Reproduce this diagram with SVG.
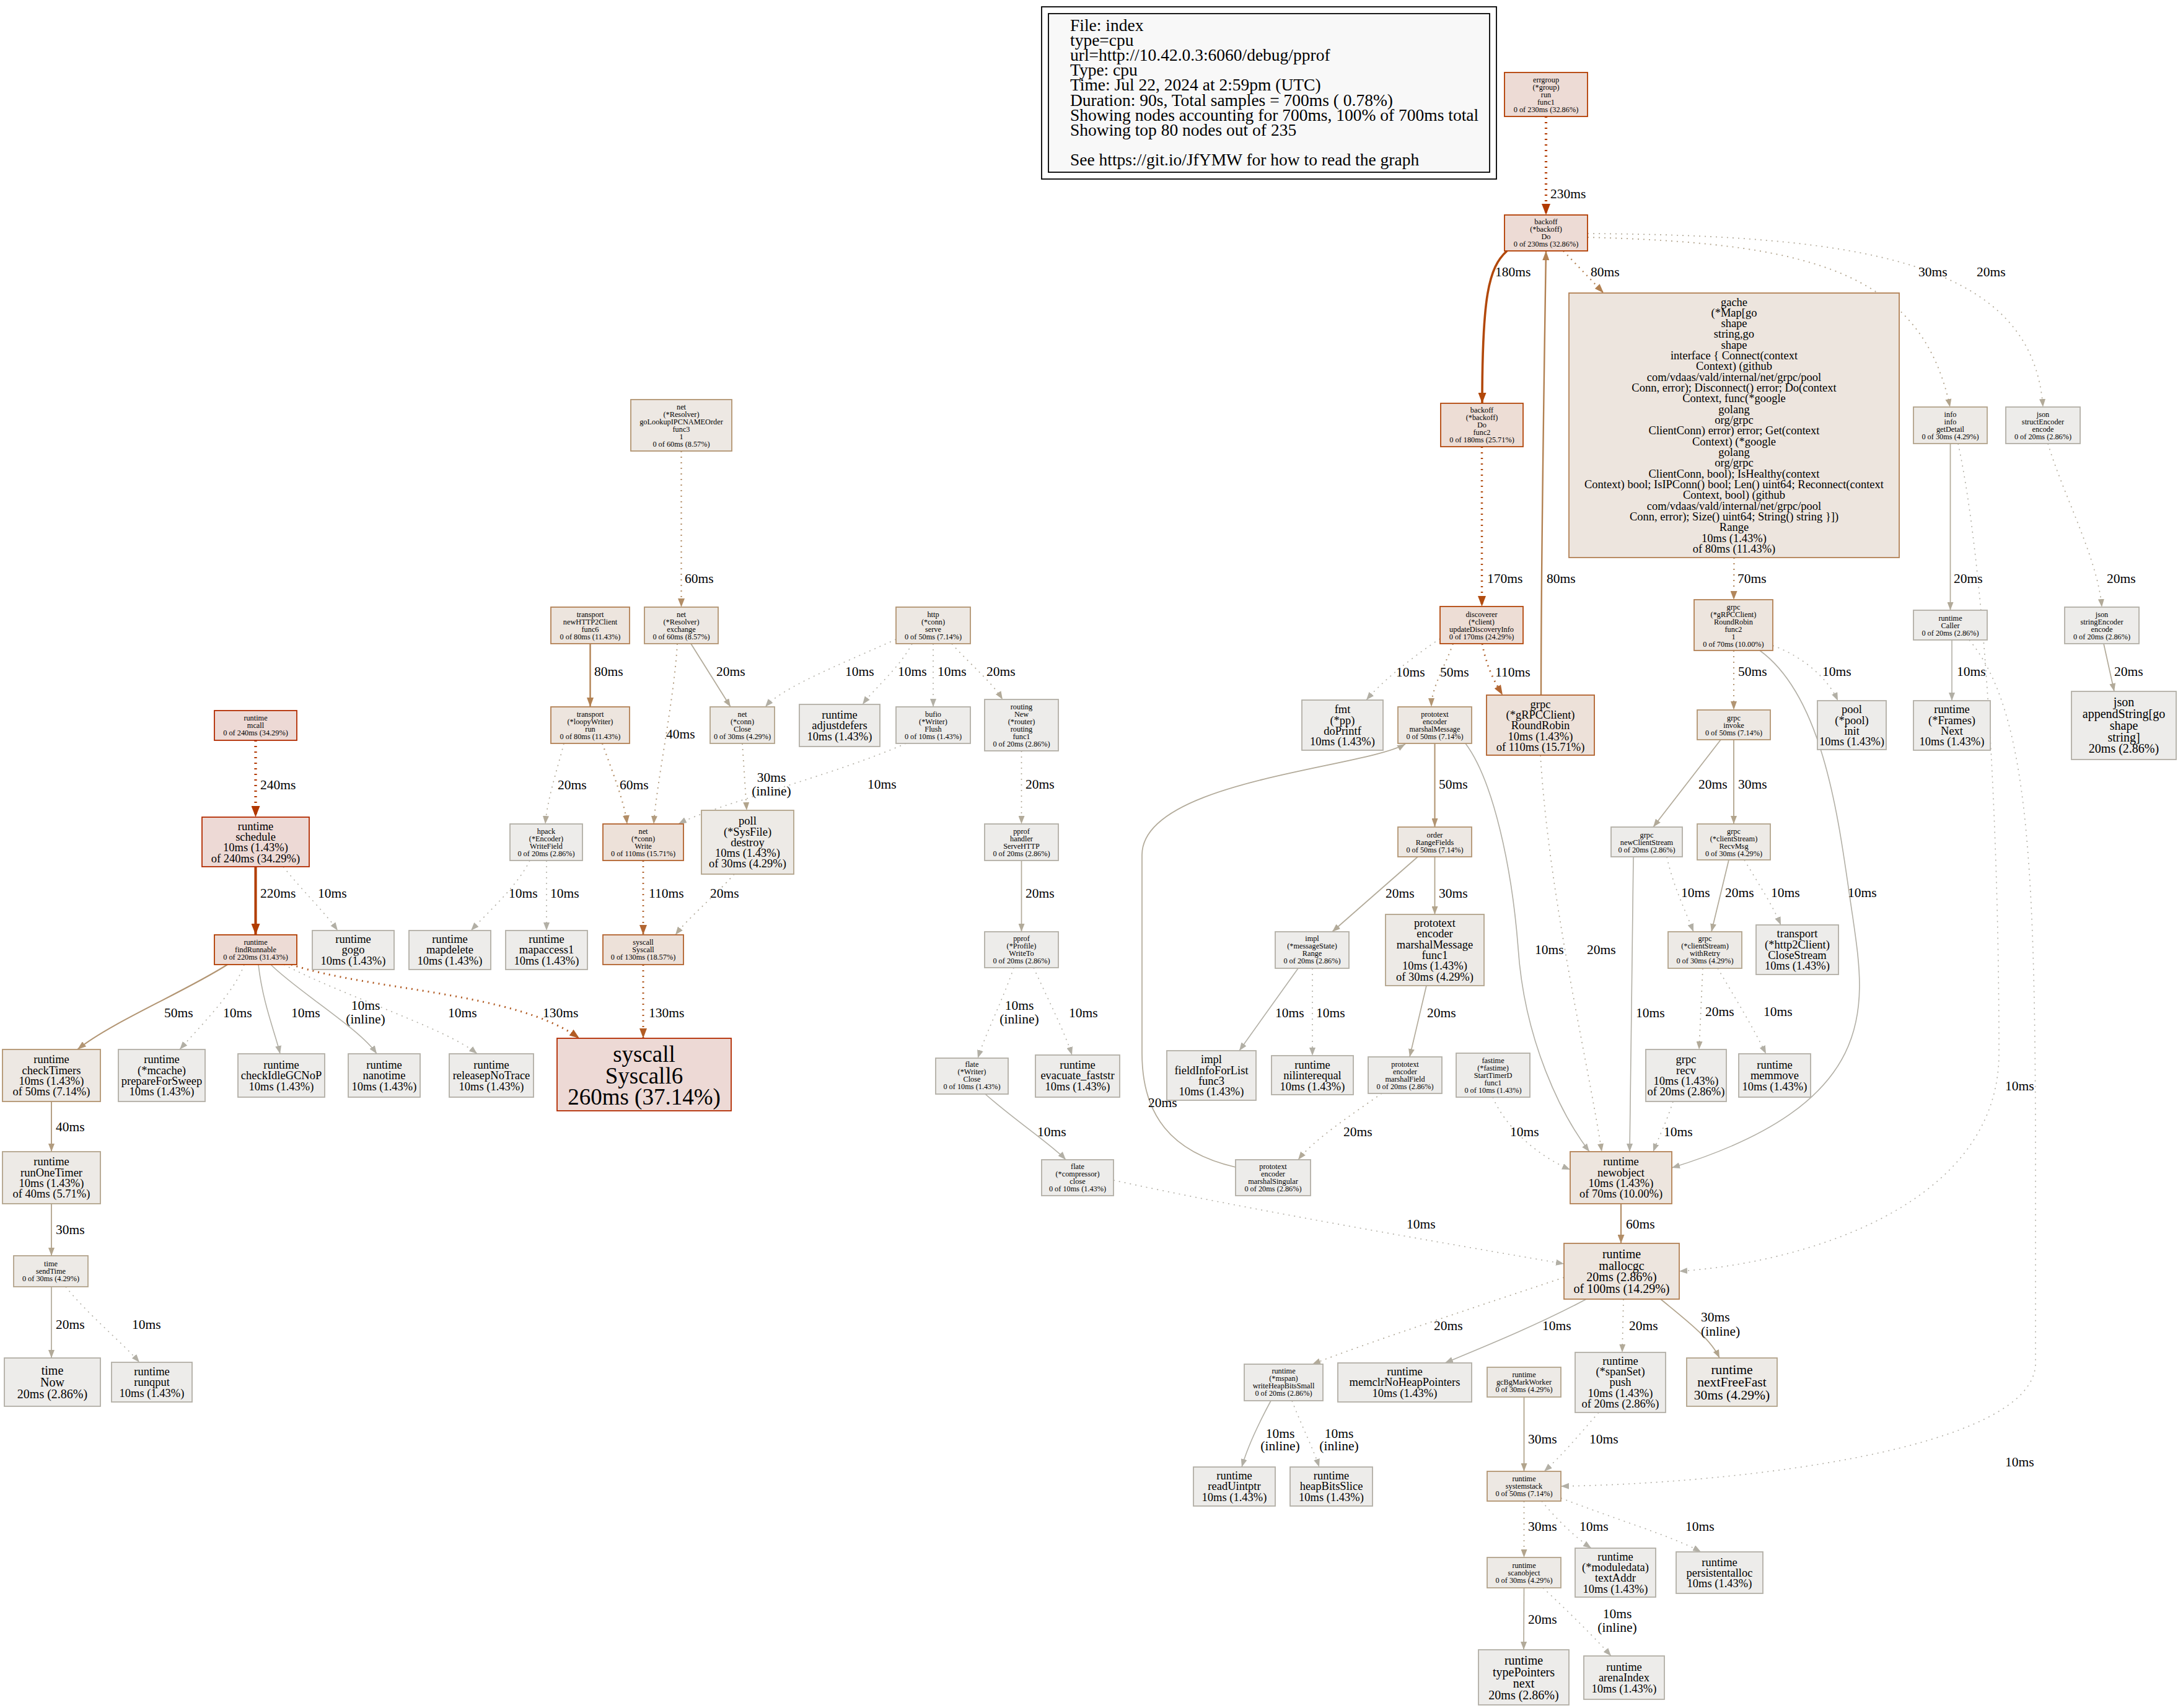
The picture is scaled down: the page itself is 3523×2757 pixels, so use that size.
<svg xmlns="http://www.w3.org/2000/svg" width="3523" height="2757" viewBox="0 0 3523 2757">
<defs>
<marker id="a240" viewBox="0 0 10 10" refX="10" refY="5" markerUnits="userSpaceOnUse" markerWidth="18" markerHeight="14" orient="auto" preserveAspectRatio="none"><path d="M0,0L10,5L0,10z" fill="#b23800"/></marker>
<marker id="a230" viewBox="0 0 10 10" refX="10" refY="5" markerUnits="userSpaceOnUse" markerWidth="18" markerHeight="14" orient="auto" preserveAspectRatio="none"><path d="M0,0L10,5L0,10z" fill="#b23a00"/></marker>
<marker id="a220" viewBox="0 0 10 10" refX="10" refY="5" markerUnits="userSpaceOnUse" markerWidth="18" markerHeight="14" orient="auto" preserveAspectRatio="none"><path d="M0,0L10,5L0,10z" fill="#b23d00"/></marker>
<marker id="a180" viewBox="0 0 10 10" refX="10" refY="5" markerUnits="userSpaceOnUse" markerWidth="17" markerHeight="13" orient="auto" preserveAspectRatio="none"><path d="M0,0L10,5L0,10z" fill="#b2480a"/></marker>
<marker id="a170" viewBox="0 0 10 10" refX="10" refY="5" markerUnits="userSpaceOnUse" markerWidth="17" markerHeight="13" orient="auto" preserveAspectRatio="none"><path d="M0,0L10,5L0,10z" fill="#b24c10"/></marker>
<marker id="a130" viewBox="0 0 10 10" refX="10" refY="5" markerUnits="userSpaceOnUse" markerWidth="16" markerHeight="12" orient="auto" preserveAspectRatio="none"><path d="M0,0L10,5L0,10z" fill="#b25c24"/></marker>
<marker id="a110" viewBox="0 0 10 10" refX="10" refY="5" markerUnits="userSpaceOnUse" markerWidth="16" markerHeight="12" orient="auto" preserveAspectRatio="none"><path d="M0,0L10,5L0,10z" fill="#b26632"/></marker>
<marker id="a80" viewBox="0 0 10 10" refX="10" refY="5" markerUnits="userSpaceOnUse" markerWidth="15" markerHeight="11" orient="auto" preserveAspectRatio="none"><path d="M0,0L10,5L0,10z" fill="#b28152"/></marker>
<marker id="a70" viewBox="0 0 10 10" refX="10" refY="5" markerUnits="userSpaceOnUse" markerWidth="14" markerHeight="11" orient="auto" preserveAspectRatio="none"><path d="M0,0L10,5L0,10z" fill="#b2875c"/></marker>
<marker id="a60" viewBox="0 0 10 10" refX="10" refY="5" markerUnits="userSpaceOnUse" markerWidth="14" markerHeight="11" orient="auto" preserveAspectRatio="none"><path d="M0,0L10,5L0,10z" fill="#b28d66"/></marker>
<marker id="a50" viewBox="0 0 10 10" refX="10" refY="5" markerUnits="userSpaceOnUse" markerWidth="14" markerHeight="10" orient="auto" preserveAspectRatio="none"><path d="M0,0L10,5L0,10z" fill="#b29573"/></marker>
<marker id="a40" viewBox="0 0 10 10" refX="10" refY="5" markerUnits="userSpaceOnUse" markerWidth="13" markerHeight="10" orient="auto" preserveAspectRatio="none"><path d="M0,0L10,5L0,10z" fill="#b29c7f"/></marker>
<marker id="a30" viewBox="0 0 10 10" refX="10" refY="5" markerUnits="userSpaceOnUse" markerWidth="13" markerHeight="10" orient="auto" preserveAspectRatio="none"><path d="M0,0L10,5L0,10z" fill="#b2a48c"/></marker>
<marker id="a20" viewBox="0 0 10 10" refX="10" refY="5" markerUnits="userSpaceOnUse" markerWidth="13" markerHeight="10" orient="auto" preserveAspectRatio="none"><path d="M0,0L10,5L0,10z" fill="#b2aa99"/></marker>
<marker id="a10" viewBox="0 0 10 10" refX="10" refY="5" markerUnits="userSpaceOnUse" markerWidth="13" markerHeight="10" orient="auto" preserveAspectRatio="none"><path d="M0,0L10,5L0,10z" fill="#b2afa5"/></marker>
</defs>
<style>
.t{font-family:"Liberation Serif","Times New Roman",serif;text-anchor:middle;fill:#000}
.f0{font-size:12.3px}.f10{font-size:18.5px}.f20{font-size:20px}.f30{font-size:21.6px}.f260{font-size:37px}
.lb{font-family:"Liberation Serif","Times New Roman",serif;font-size:21.5px;fill:#000}
.lm{text-anchor:middle}
.lg{font-family:"Liberation Serif","Times New Roman",serif;font-size:27.5px;fill:#000}
g rect{stroke-width:1.8}
.c1 rect{fill:#edd9d5;stroke:#b22b00}
.c2 rect{fill:#eddbd5;stroke:#b23c00}
.c3 rect{fill:#edddd5;stroke:#b2460b}
.c4 rect{fill:#ede1d9;stroke:#b2622d}
.c5 rect{fill:#ede5de;stroke:#b28054}
.c6 rect{fill:#ede8e3;stroke:#b29471}
.c7 rect{fill:#edeae6;stroke:#b2a38b}
.c8 rect{fill:#edecea;stroke:#b2afa6}
#edges path{fill:none}
.d{stroke-dasharray:2,7}
.w240{stroke:#b23800;stroke-width:4.3;marker-end:url(#a240)}
.w230{stroke:#b23a00;stroke-width:4.2;marker-end:url(#a230)}
.w220{stroke:#b23d00;stroke-width:4.1;marker-end:url(#a220)}
.w180{stroke:#b2480a;stroke-width:3.6;marker-end:url(#a180)}
.w170{stroke:#b24c10;stroke-width:3.5;marker-end:url(#a170)}
.w130{stroke:#b25c24;stroke-width:3;marker-end:url(#a130)}
.w110{stroke:#b26632;stroke-width:2.8;marker-end:url(#a110)}
.w80{stroke:#b28152;stroke-width:2.4;marker-end:url(#a80)}
.w70{stroke:#b2875c;stroke-width:2.3;marker-end:url(#a70)}
.w60{stroke:#b28d66;stroke-width:2.2;marker-end:url(#a60)}
.w50{stroke:#b29573;stroke-width:2.1;marker-end:url(#a50)}
.w40{stroke:#b29c7f;stroke-width:1.9;marker-end:url(#a40)}
.w30{stroke:#b2a48c;stroke-width:1.8;marker-end:url(#a30)}
.w20{stroke:#b2aa99;stroke-width:1.7;marker-end:url(#a20)}
.w10{stroke:#b2afa5;stroke-width:1.6;marker-end:url(#a10)}
</style>
<rect width="3523" height="2757" fill="#ffffff"/>
<g id="legend">
<rect x="1681" y="11" width="734" height="278" fill="#ffffff" stroke="#000" stroke-width="1.5"/>
<rect x="1692" y="22" width="712" height="256" fill="#f8f8f8" stroke="#000" stroke-width="1.5"/>
<text class="lg" y="49.5"><tspan x="1727">File: index</tspan><tspan x="1727" dy="24.2">type=cpu</tspan><tspan x="1727" dy="24.2">url=http://10.42.0.3:6060/debug/pprof</tspan><tspan x="1727" dy="24.2">Type: cpu</tspan><tspan x="1727" dy="24.2">Time: Jul 22, 2024 at 2:59pm (UTC)</tspan><tspan x="1727" dy="24.2">Duration: 90s, Total samples = 700ms ( 0.78%)</tspan><tspan x="1727" dy="24.2">Showing nodes accounting for 700ms, 100% of 700ms total</tspan><tspan x="1727" dy="24.2">Showing top 80 nodes out of 235</tspan><tspan x="1727" dy="48.4">See https://git.io/JfYMW for how to read the graph</tspan></text>
</g>
<g id="edges">
<path class="w230 d" d="M2495,188L2495,347"/>
<path class="w180" d="M2432,405C2402,432 2392,480 2392,651"/>
<path class="w80 d" d="M2523,405L2588,473"/>
<path class="w30 d" d="M2562,383C2900,392 3100,430 3147,657"/>
<path class="w20 d" d="M2562,377C3000,380 3280,420 3297,657"/>
<path class="w170 d" d="M2391.5,721L2391.5,979"/>
<path class="w70 d" d="M2798.5,900L2798,968"/>
<path class="w20" d="M3147.5,716L3147.5,985"/>
<path class="w10 d" d="M3160,716C3200,900 3226,1300 3226,1700C3226,1950 2900,2040 2710,2052"/>
<path class="w20 d" d="M3305,716C3330,800 3385,900 3392,980"/>
<path class="w20" d="M3395,1039L3412,1116"/>
<path class="w10" d="M3150,1033L3150,1131"/>
<path class="w10 d" d="M3178,1033C3275,1150 3285,1400 3285,1900L3285,2200C3285,2340 2800,2395 2519,2399"/>
<path class="w60 d" d="M1099.5,728L1099.5,980"/>
<path class="w80" d="M952.5,1039L952.5,1141"/>
<path class="w20" d="M1115,1039L1179,1141"/>
<path class="w40 d" d="M1093,1039C1088,1130 1060,1260 1055,1330"/>
<path class="w10 d" d="M1446,1032C1350,1075 1262,1110 1235,1141"/>
<path class="w10 d" d="M1472,1039C1450,1080 1412,1110 1392,1137"/>
<path class="w10 d" d="M1506,1039L1506,1141"/>
<path class="w20 d" d="M1536,1039C1565,1072 1600,1100 1618,1129"/>
<path class="w20 d" d="M910,1200C900,1240 883,1290 880,1330"/>
<path class="w60 d" d="M972,1200C988,1245 1008,1295 1012,1330"/>
<path class="w10 d" d="M1462,1200C1350,1250 1150,1300 1095,1330"/>
<path class="w30 d" d="M1198,1200L1205,1308"/>
<path class="w20 d" d="M1648.5,1212L1648.5,1330"/>
<path class="w20" d="M1648.5,1389L1648.5,1504"/>
<path class="w10 d" d="M855,1389C835,1430 790,1470 760,1502"/>
<path class="w10 d" d="M882,1389L882,1502"/>
<path class="w110 d" d="M1038,1389L1038,1509"/>
<path class="w20 d" d="M1185,1411C1150,1450 1112,1480 1090,1509"/>
<path class="w240 d" d="M412.5,1195L412.5,1319"/>
<path class="w220" d="M412.5,1399L412.5,1509"/>
<path class="w10 d" d="M457,1399C490,1440 522,1470 545,1502"/>
<path class="w50" d="M367,1557C300,1600 180,1650 125,1694"/>
<path class="w10 d" d="M394,1557C380,1600 320,1660 290,1694"/>
<path class="w10" d="M417,1557C424,1620 445,1670 452,1701"/>
<path class="w10" d="M437,1557C480,1600 580,1660 608,1701"/>
<path class="w10 d" d="M458,1557C560,1610 720,1660 770,1701"/>
<path class="w130 d" d="M470,1557C600,1600 830,1600 935,1676"/>
<path class="w130 d" d="M1038,1557L1038,1676"/>
<path class="w40" d="M83,1778L83,1859"/>
<path class="w30" d="M83,1943L83,2027"/>
<path class="w20" d="M83,2077L83,2192"/>
<path class="w10 d" d="M106,2077C140,2120 200,2170 225,2199"/>
<path class="w10 d" d="M1636,1562C1620,1610 1590,1670 1578,1708"/>
<path class="w10 d" d="M1668,1562C1690,1610 1720,1670 1730,1703"/>
<path class="w10" d="M1590,1766C1640,1810 1700,1850 1720,1872"/>
<path class="w10 d" d="M1797,1905C2000,1950 2350,2010 2524,2040"/>
<path class="w10 d" d="M2324,1031C2280,1060 2230,1100 2205,1130"/>
<path class="w50 d" d="M2345,1039C2330,1080 2310,1110 2310,1141"/>
<path class="w110 d" d="M2392,1039C2400,1080 2412,1100 2425,1122"/>
<path class="w80" d="M2487,1122C2487,900 2492,600 2495,405"/>
<path class="w20 d" d="M2486,1219C2500,1450 2560,1700 2585,1859"/>
<path class="w50" d="M2315.5,1200L2315.5,1335"/>
<path class="w10" d="M2365,1200C2410,1260 2440,1400 2450,1530C2460,1680 2520,1800 2565,1859"/>
<path class="w20" d="M2288,1383L2150,1504"/>
<path class="w30" d="M2315.5,1383L2315.5,1476"/>
<path class="w10" d="M2095,1563L2000,1696"/>
<path class="w10 d" d="M2118,1563L2118,1704"/>
<path class="w20" d="M2302,1591L2275,1706"/>
<path class="w20 d" d="M2230,1765C2180,1800 2120,1840 2095,1872"/>
<path class="w20" d="M1994,1884C1890,1860 1843,1800 1843,1700L1843,1380C1843,1260 2200,1240 2268,1201"/>
<path class="w10 d" d="M2409,1771C2430,1820 2480,1865 2534,1888"/>
<path class="w50 d" d="M2798,1050L2798,1146"/>
<path class="w10 d" d="M2861,1042C2910,1060 2950,1095 2966,1131"/>
<path class="w10" d="M2840,1050C2950,1130 2970,1350 2990,1480C3010,1620 3040,1780 2698,1885"/>
<path class="w20" d="M2777,1194L2668,1335"/>
<path class="w30" d="M2798,1194L2798,1330"/>
<path class="w10 d" d="M2690,1383C2700,1430 2720,1470 2733,1504"/>
<path class="w10" d="M2636,1383C2636,1500 2630,1750 2630,1859"/>
<path class="w20" d="M2790,1388L2762,1504"/>
<path class="w10 d" d="M2815,1388C2840,1430 2860,1460 2874,1493"/>
<path class="w20 d" d="M2748,1563L2742,1694"/>
<path class="w10 d" d="M2772,1563C2800,1610 2830,1660 2850,1701"/>
<path class="w10 d" d="M2700,1778C2690,1810 2675,1840 2668,1859"/>
<path class="w60" d="M2616,1943L2616,2007"/>
<path class="w20 d" d="M2524,2062C2350,2120 2200,2170 2118,2202"/>
<path class="w10" d="M2560,2097C2480,2140 2380,2180 2332,2200"/>
<path class="w20 d" d="M2620,2097L2618,2183"/>
<path class="w30" d="M2680,2097C2720,2130 2760,2160 2775,2192"/>
<path class="w10" d="M2051,2261C2030,2300 2012,2340 2004,2368"/>
<path class="w10 d" d="M2085,2261C2100,2300 2120,2340 2129,2368"/>
<path class="w30" d="M2459.5,2255L2459.5,2375"/>
<path class="w10 d" d="M2580,2280C2545,2320 2520,2350 2492,2375"/>
<path class="w30 d" d="M2459.5,2423L2459.5,2514"/>
<path class="w10 d" d="M2488,2423C2510,2450 2540,2480 2568,2499"/>
<path class="w10 d" d="M2519,2418C2600,2450 2700,2480 2745,2505"/>
<path class="w20" d="M2459.5,2563L2459,2663"/>
<path class="w10 d" d="M2490,2563C2530,2600 2580,2650 2600,2673"/>
<g id="edge-labels">
<text class="lb" x="2502" y="319.5">230ms</text>
<text class="lb" x="2413" y="445.5">180ms</text>
<text class="lb" x="2567" y="445.5">80ms</text>
<text class="lb" x="3096" y="445.5">30ms</text>
<text class="lb" x="3190" y="445.5">20ms</text>
<text class="lb" x="2400" y="940.5">170ms</text>
<text class="lb" x="2496" y="940.5">80ms</text>
<text class="lb" x="2804" y="940.5">70ms</text>
<text class="lb" x="3153" y="940.5">20ms</text>
<text class="lb" x="3400" y="940.5">20ms</text>
<text class="lb" x="1105" y="940.5">60ms</text>
<text class="lb" x="959" y="1090.5">80ms</text>
<text class="lb" x="1156" y="1090.5">20ms</text>
<text class="lb" x="1075" y="1192">40ms</text>
<text class="lb" x="1364" y="1090.5">10ms</text>
<text class="lb" x="1449" y="1090.5">10ms</text>
<text class="lb" x="1513" y="1090.5">10ms</text>
<text class="lb" x="1592" y="1090.5">20ms</text>
<text class="lb" x="2253" y="1091.5">10ms</text>
<text class="lb" x="2324" y="1091.5">50ms</text>
<text class="lb" x="2413" y="1091.5">110ms</text>
<text class="lb" x="2805" y="1090.5">50ms</text>
<text class="lb" x="2941" y="1090.5">10ms</text>
<text class="lb" x="3158" y="1090.5">10ms</text>
<text class="lb" x="3412" y="1090.5">20ms</text>
<text class="lb" x="420" y="1273.5">240ms</text>
<text class="lb" x="900" y="1273.5">20ms</text>
<text class="lb" x="1000" y="1273.5">60ms</text>
<text class="lb" x="1400" y="1272.5">10ms</text>
<text class="lb lm" x="1245" y="1262">30ms</text>
<text class="lb lm" x="1245" y="1284">(inline)</text>
<text class="lb" x="1655" y="1272.5">20ms</text>
<text class="lb" x="2322" y="1272.5">50ms</text>
<text class="lb" x="2741" y="1272.5">20ms</text>
<text class="lb" x="2805" y="1272.5">30ms</text>
<text class="lb" x="420" y="1448.5">220ms</text>
<text class="lb" x="513" y="1448.5">10ms</text>
<text class="lb" x="821" y="1448.5">10ms</text>
<text class="lb" x="888" y="1448.5">10ms</text>
<text class="lb" x="1047" y="1448.5">110ms</text>
<text class="lb" x="1146" y="1448.5">20ms</text>
<text class="lb" x="1655" y="1448.5">20ms</text>
<text class="lb" x="2236" y="1448.5">20ms</text>
<text class="lb" x="2322" y="1448.5">30ms</text>
<text class="lb" x="2713" y="1447.5">10ms</text>
<text class="lb" x="2784" y="1447.5">20ms</text>
<text class="lb" x="2858" y="1447.5">10ms</text>
<text class="lb" x="2982" y="1447.5">10ms</text>
<text class="lb" x="2561" y="1539.5">20ms</text>
<text class="lb" x="2477" y="1539.5">10ms</text>
<text class="lb" x="265" y="1641.5">50ms</text>
<text class="lb" x="360" y="1641.5">10ms</text>
<text class="lb" x="470" y="1641.5">10ms</text>
<text class="lb lm" x="590" y="1630">10ms</text>
<text class="lb lm" x="590" y="1652">(inline)</text>
<text class="lb" x="723" y="1641.5">10ms</text>
<text class="lb" x="876" y="1641.5">130ms</text>
<text class="lb" x="1047" y="1641.5">130ms</text>
<text class="lb lm" x="1645" y="1630">10ms</text>
<text class="lb lm" x="1645" y="1652">(inline)</text>
<text class="lb" x="1725" y="1641.5">10ms</text>
<text class="lb" x="2058" y="1641.5">10ms</text>
<text class="lb" x="2124" y="1641.5">10ms</text>
<text class="lb" x="2303" y="1641.5">20ms</text>
<text class="lb" x="2640" y="1641.5">10ms</text>
<text class="lb" x="2752" y="1639.5">20ms</text>
<text class="lb" x="2846" y="1639.5">10ms</text>
<text class="lb" x="3236" y="1759.5">10ms</text>
<text class="lb" x="1853" y="1787">20ms</text>
<text class="lb" x="90" y="1825.5">40ms</text>
<text class="lb" x="1674" y="1833.5">10ms</text>
<text class="lb" x="2168" y="1833.5">20ms</text>
<text class="lb" x="2437" y="1833.5">10ms</text>
<text class="lb" x="2685" y="1833.5">10ms</text>
<text class="lb" x="90" y="1992">30ms</text>
<text class="lb" x="2624" y="1982.5">60ms</text>
<text class="lb" x="2270" y="1982.5">10ms</text>
<text class="lb" x="90" y="2144.5">20ms</text>
<text class="lb" x="213" y="2144.5">10ms</text>
<text class="lb" x="2314" y="2146.5">20ms</text>
<text class="lb" x="2489" y="2146.5">10ms</text>
<text class="lb" x="2629" y="2146.5">20ms</text>
<text class="lb" x="2745" y="2133">30ms</text>
<text class="lb" x="2745" y="2156">(inline)</text>
<text class="lb lm" x="2066" y="2320.5">10ms</text>
<text class="lb lm" x="2066" y="2340.5">(inline)</text>
<text class="lb lm" x="2161" y="2320.5">10ms</text>
<text class="lb lm" x="2161" y="2340.5">(inline)</text>
<text class="lb" x="2466" y="2329.5">30ms</text>
<text class="lb" x="2565" y="2329.5">10ms</text>
<text class="lb" x="3236" y="2366.5">10ms</text>
<text class="lb" x="2466" y="2470.5">30ms</text>
<text class="lb" x="2549" y="2470.5">10ms</text>
<text class="lb" x="2720" y="2470.5">10ms</text>
<text class="lb" x="2466" y="2620.5">20ms</text>
<text class="lb lm" x="2610" y="2612">10ms</text>
<text class="lb lm" x="2610" y="2634">(inline)</text>
</g>
</g>
<g id="n-errgroup" class="c2"><rect x="2428" y="117" width="134" height="71"/><text class="t f0" y="132.7"><tspan x="2495">errgroup</tspan><tspan x="2495" dy="12">(*group)</tspan><tspan x="2495" dy="12">run</tspan><tspan x="2495" dy="12">func1</tspan><tspan x="2495" dy="12">0 of 230ms (32.86%)</tspan></text></g>
<g id="n-backoff-do" class="c2"><rect x="2428" y="347" width="134" height="58"/><text class="t f0" y="362.2"><tspan x="2495">backoff</tspan><tspan x="2495" dy="12">(*backoff)</tspan><tspan x="2495" dy="12">Do</tspan><tspan x="2495" dy="12">0 of 230ms (32.86%)</tspan></text></g>
<g id="n-gache" class="c5"><rect x="2532" y="473" width="533" height="427"/><text class="t f10" y="493.5"><tspan x="2798.5">gache</tspan><tspan x="2798.5" dy="17.33">(*Map[go</tspan><tspan x="2798.5" dy="17.33">shape</tspan><tspan x="2798.5" dy="17.33">string,go</tspan><tspan x="2798.5" dy="17.33">shape</tspan><tspan x="2798.5" dy="17.33">interface { Connect(context</tspan><tspan x="2798.5" dy="17.33">Context) (github</tspan><tspan x="2798.5" dy="17.33">com/vdaas/vald/internal/net/grpc/pool</tspan><tspan x="2798.5" dy="17.33">Conn, error); Disconnect() error; Do(context</tspan><tspan x="2798.5" dy="17.33">Context, func(*google</tspan><tspan x="2798.5" dy="17.33">golang</tspan><tspan x="2798.5" dy="17.33">org/grpc</tspan><tspan x="2798.5" dy="17.33">ClientConn) error) error; Get(context</tspan><tspan x="2798.5" dy="17.33">Context) (*google</tspan><tspan x="2798.5" dy="17.33">golang</tspan><tspan x="2798.5" dy="17.33">org/grpc</tspan><tspan x="2798.5" dy="17.33">ClientConn, bool); IsHealthy(context</tspan><tspan x="2798.5" dy="17.33">Context) bool; IsIPConn() bool; Len() uint64; Reconnect(context</tspan><tspan x="2798.5" dy="17.33">Context, bool) (github</tspan><tspan x="2798.5" dy="17.33">com/vdaas/vald/internal/net/grpc/pool</tspan><tspan x="2798.5" dy="17.33">Conn, error); Size() uint64; String() string }])</tspan><tspan x="2798.5" dy="17.33">Range</tspan><tspan x="2798.5" dy="17.33">10ms (1.43%)</tspan><tspan x="2798.5" dy="17.33">of 80ms (11.43%)</tspan></text></g>
<g id="n-backoff-func2" class="c3"><rect x="2325" y="651" width="133" height="70"/><text class="t f0" y="666.2"><tspan x="2391.5">backoff</tspan><tspan x="2391.5" dy="12">(*backoff)</tspan><tspan x="2391.5" dy="12">Do</tspan><tspan x="2391.5" dy="12">func2</tspan><tspan x="2391.5" dy="12">0 of 180ms (25.71%)</tspan></text></g>
<g id="n-golookup" class="c6"><rect x="1018" y="645" width="163" height="83"/><text class="t f0" y="660.7"><tspan x="1099.5">net</tspan><tspan x="1099.5" dy="12">(*Resolver)</tspan><tspan x="1099.5" dy="12">goLookupIPCNAMEOrder</tspan><tspan x="1099.5" dy="12">func3</tspan><tspan x="1099.5" dy="12">1</tspan><tspan x="1099.5" dy="12">0 of 60ms (8.57%)</tspan></text></g>
<g id="n-getdetail" class="c7"><rect x="3088" y="657" width="119" height="59"/><text class="t f0" y="672.7"><tspan x="3147.5">info</tspan><tspan x="3147.5" dy="12">info</tspan><tspan x="3147.5" dy="12">getDetail</tspan><tspan x="3147.5" dy="12">0 of 30ms (4.29%)</tspan></text></g>
<g id="n-structencoder" class="c8"><rect x="3237" y="657" width="120" height="59"/><text class="t f0" y="672.7"><tspan x="3297">json</tspan><tspan x="3297" dy="12">structEncoder</tspan><tspan x="3297" dy="12">encode</tspan><tspan x="3297" dy="12">0 of 20ms (2.86%)</tspan></text></g>
<g id="n-func6" class="c5"><rect x="889" y="980" width="127" height="59"/><text class="t f0" y="995.7"><tspan x="952.5">transport</tspan><tspan x="952.5" dy="12">newHTTP2Client</tspan><tspan x="952.5" dy="12">func6</tspan><tspan x="952.5" dy="12">0 of 80ms (11.43%)</tspan></text></g>
<g id="n-exchange" class="c6"><rect x="1040" y="980" width="119" height="59"/><text class="t f0" y="995.7"><tspan x="1099.5">net</tspan><tspan x="1099.5" dy="12">(*Resolver)</tspan><tspan x="1099.5" dy="12">exchange</tspan><tspan x="1099.5" dy="12">0 of 60ms (8.57%)</tspan></text></g>
<g id="n-httpserve" class="c6"><rect x="1446" y="980" width="120" height="59"/><text class="t f0" y="995.7"><tspan x="1506">http</tspan><tspan x="1506" dy="12">(*conn)</tspan><tspan x="1506" dy="12">serve</tspan><tspan x="1506" dy="12">0 of 50ms (7.14%)</tspan></text></g>
<g id="n-discoverer" class="c3"><rect x="2324" y="979" width="134" height="60"/><text class="t f0" y="995.7"><tspan x="2391">discoverer</tspan><tspan x="2391" dy="12">(*client)</tspan><tspan x="2391" dy="12">updateDiscoveryInfo</tspan><tspan x="2391" dy="12">0 of 170ms (24.29%)</tspan></text></g>
<g id="n-rrfunc2" class="c5"><rect x="2734" y="968" width="127" height="82"/><text class="t f0" y="983.7"><tspan x="2797.5">grpc</tspan><tspan x="2797.5" dy="12">(*gRPCClient)</tspan><tspan x="2797.5" dy="12">RoundRobin</tspan><tspan x="2797.5" dy="12">func2</tspan><tspan x="2797.5" dy="12">1</tspan><tspan x="2797.5" dy="12">0 of 70ms (10.00%)</tspan></text></g>
<g id="n-caller" class="c8"><rect x="3088" y="985" width="119" height="48"/><text class="t f0" y="1001.7"><tspan x="3147.5">runtime</tspan><tspan x="3147.5" dy="12">Caller</tspan><tspan x="3147.5" dy="12">0 of 20ms (2.86%)</tspan></text></g>
<g id="n-stringencoder" class="c8"><rect x="3332" y="980" width="120" height="59"/><text class="t f0" y="995.7"><tspan x="3392">json</tspan><tspan x="3392" dy="12">stringEncoder</tspan><tspan x="3392" dy="12">encode</tspan><tspan x="3392" dy="12">0 of 20ms (2.86%)</tspan></text></g>
<g id="n-mcall" class="c1"><rect x="346" y="1147" width="133" height="48"/><text class="t f0" y="1163.2"><tspan x="412.5">runtime</tspan><tspan x="412.5" dy="12">mcall</tspan><tspan x="412.5" dy="12">0 of 240ms (34.29%)</tspan></text></g>
<g id="n-loopywriter" class="c5"><rect x="889" y="1141" width="127" height="59"/><text class="t f0" y="1157.2"><tspan x="952.5">transport</tspan><tspan x="952.5" dy="12">(*loopyWriter)</tspan><tspan x="952.5" dy="12">run</tspan><tspan x="952.5" dy="12">0 of 80ms (11.43%)</tspan></text></g>
<g id="n-netclose" class="c7"><rect x="1146" y="1141" width="104" height="59"/><text class="t f0" y="1157.2"><tspan x="1198">net</tspan><tspan x="1198" dy="12">(*conn)</tspan><tspan x="1198" dy="12">Close</tspan><tspan x="1198" dy="12">0 of 30ms (4.29%)</tspan></text></g>
<g id="n-adjustdefers" class="c8"><rect x="1290" y="1137" width="130" height="68"/><text class="t f10" y="1160"><tspan x="1355">runtime</tspan><tspan x="1355" dy="17.3">adjustdefers</tspan><tspan x="1355" dy="17.3">10ms (1.43%)</tspan></text></g>
<g id="n-bufio" class="c8"><rect x="1446" y="1141" width="120" height="59"/><text class="t f0" y="1157.2"><tspan x="1506">bufio</tspan><tspan x="1506" dy="12">(*Writer)</tspan><tspan x="1506" dy="12">Flush</tspan><tspan x="1506" dy="12">0 of 10ms (1.43%)</tspan></text></g>
<g id="n-routing" class="c8"><rect x="1589" y="1129" width="119" height="83"/><text class="t f0" y="1145.2"><tspan x="1648.5">routing</tspan><tspan x="1648.5" dy="12">New</tspan><tspan x="1648.5" dy="12">(*router)</tspan><tspan x="1648.5" dy="12">routing</tspan><tspan x="1648.5" dy="12">func1</tspan><tspan x="1648.5" dy="12">0 of 20ms (2.86%)</tspan></text></g>
<g id="n-doprintf" class="c8"><rect x="2101" y="1130" width="131" height="81"/><text class="t f10" y="1151.4"><tspan x="2166.5">fmt</tspan><tspan x="2166.5" dy="17.3">(*pp)</tspan><tspan x="2166.5" dy="17.3">doPrintf</tspan><tspan x="2166.5" dy="17.3">10ms (1.43%)</tspan></text></g>
<g id="n-marshalmessage" class="c6"><rect x="2256" y="1141" width="119" height="59"/><text class="t f0" y="1157.2"><tspan x="2315.5">prototext</tspan><tspan x="2315.5" dy="12">encoder</tspan><tspan x="2315.5" dy="12">marshalMessage</tspan><tspan x="2315.5" dy="12">0 of 50ms (7.14%)</tspan></text></g>
<g id="n-roundrobin" class="c4"><rect x="2399" y="1122" width="174" height="97"/><text class="t f10" y="1142.7"><tspan x="2486">grpc</tspan><tspan x="2486" dy="17.3">(*gRPCClient)</tspan><tspan x="2486" dy="17.3">RoundRobin</tspan><tspan x="2486" dy="17.3">10ms (1.43%)</tspan><tspan x="2486" dy="17.3">of 110ms (15.71%)</tspan></text></g>
<g id="n-invoke" class="c6"><rect x="2739" y="1146" width="118" height="48"/><text class="t f0" y="1163.2"><tspan x="2798">grpc</tspan><tspan x="2798" dy="12">invoke</tspan><tspan x="2798" dy="12">0 of 50ms (7.14%)</tspan></text></g>
<g id="n-poolinit" class="c8"><rect x="2933" y="1131" width="111" height="79"/><text class="t f10" y="1151.4"><tspan x="2988.5">pool</tspan><tspan x="2988.5" dy="17.3">(*pool)</tspan><tspan x="2988.5" dy="17.3">init</tspan><tspan x="2988.5" dy="17.3">10ms (1.43%)</tspan></text></g>
<g id="n-framesnext" class="c8"><rect x="3088" y="1131" width="124" height="80"/><text class="t f10" y="1151.4"><tspan x="3150">runtime</tspan><tspan x="3150" dy="17.3">(*Frames)</tspan><tspan x="3150" dy="17.3">Next</tspan><tspan x="3150" dy="17.3">10ms (1.43%)</tspan></text></g>
<g id="n-appendstring" class="c8"><rect x="3343" y="1116" width="169" height="110"/><text class="t f20" y="1140.4"><tspan x="3427.5">json</tspan><tspan x="3427.5" dy="18.7">appendString[go</tspan><tspan x="3427.5" dy="18.7">shape</tspan><tspan x="3427.5" dy="18.7">string]</tspan><tspan x="3427.5" dy="18.7">20ms (2.86%)</tspan></text></g>
<g id="n-schedule" class="c1"><rect x="326" y="1319" width="173" height="80"/><text class="t f10" y="1339.8"><tspan x="412.5">runtime</tspan><tspan x="412.5" dy="17.3">schedule</tspan><tspan x="412.5" dy="17.3">10ms (1.43%)</tspan><tspan x="412.5" dy="17.3">of 240ms (34.29%)</tspan></text></g>
<g id="n-hpack" class="c8"><rect x="823" y="1330" width="117" height="59"/><text class="t f0" y="1345.7"><tspan x="881.5">hpack</tspan><tspan x="881.5" dy="12">(*Encoder)</tspan><tspan x="881.5" dy="12">WriteField</tspan><tspan x="881.5" dy="12">0 of 20ms (2.86%)</tspan></text></g>
<g id="n-netwrite" class="c4"><rect x="973" y="1330" width="130" height="59"/><text class="t f0" y="1345.7"><tspan x="1038">net</tspan><tspan x="1038" dy="12">(*conn)</tspan><tspan x="1038" dy="12">Write</tspan><tspan x="1038" dy="12">0 of 110ms (15.71%)</tspan></text></g>
<g id="n-poll" class="c7"><rect x="1132" y="1308" width="149" height="103"/><text class="t f10" y="1331.2"><tspan x="1206.5">poll</tspan><tspan x="1206.5" dy="17.3">(*SysFile)</tspan><tspan x="1206.5" dy="17.3">destroy</tspan><tspan x="1206.5" dy="17.3">10ms (1.43%)</tspan><tspan x="1206.5" dy="17.3">of 30ms (4.29%)</tspan></text></g>
<g id="n-pprofhandler" class="c8"><rect x="1589" y="1330" width="119" height="59"/><text class="t f0" y="1345.7"><tspan x="1648.5">pprof</tspan><tspan x="1648.5" dy="12">handler</tspan><tspan x="1648.5" dy="12">ServeHTTP</tspan><tspan x="1648.5" dy="12">0 of 20ms (2.86%)</tspan></text></g>
<g id="n-order" class="c6"><rect x="2256" y="1335" width="119" height="48"/><text class="t f0" y="1351.7"><tspan x="2315.5">order</tspan><tspan x="2315.5" dy="12">RangeFields</tspan><tspan x="2315.5" dy="12">0 of 50ms (7.14%)</tspan></text></g>
<g id="n-newclientstream" class="c8"><rect x="2600" y="1335" width="115" height="48"/><text class="t f0" y="1351.7"><tspan x="2657.5">grpc</tspan><tspan x="2657.5" dy="12">newClientStream</tspan><tspan x="2657.5" dy="12">0 of 20ms (2.86%)</tspan></text></g>
<g id="n-recvmsg" class="c7"><rect x="2739" y="1330" width="118" height="58"/><text class="t f0" y="1345.7"><tspan x="2798">grpc</tspan><tspan x="2798" dy="12">(*clientStream)</tspan><tspan x="2798" dy="12">RecvMsg</tspan><tspan x="2798" dy="12">0 of 30ms (4.29%)</tspan></text></g>
<g id="n-findrunnable" class="c2"><rect x="346" y="1509" width="133" height="48"/><text class="t f0" y="1525.2"><tspan x="412.5">runtime</tspan><tspan x="412.5" dy="12">findRunnable</tspan><tspan x="412.5" dy="12">0 of 220ms (31.43%)</tspan></text></g>
<g id="n-gogo" class="c8"><rect x="504" y="1502" width="132" height="63"/><text class="t f10" y="1522"><tspan x="570">runtime</tspan><tspan x="570" dy="17.3">gogo</tspan><tspan x="570" dy="17.3">10ms (1.43%)</tspan></text></g>
<g id="n-mapdelete" class="c8"><rect x="660" y="1502" width="132" height="63"/><text class="t f10" y="1522"><tspan x="726">runtime</tspan><tspan x="726" dy="17.3">mapdelete</tspan><tspan x="726" dy="17.3">10ms (1.43%)</tspan></text></g>
<g id="n-mapaccess1" class="c8"><rect x="816" y="1502" width="132" height="63"/><text class="t f10" y="1522"><tspan x="882">runtime</tspan><tspan x="882" dy="17.3">mapaccess1</tspan><tspan x="882" dy="17.3">10ms (1.43%)</tspan></text></g>
<g id="n-syscall" class="c4"><rect x="973" y="1509" width="130" height="48"/><text class="t f0" y="1525.2"><tspan x="1038">syscall</tspan><tspan x="1038" dy="12">Syscall</tspan><tspan x="1038" dy="12">0 of 130ms (18.57%)</tspan></text></g>
<g id="n-writeto" class="c8"><rect x="1589" y="1504" width="119" height="58"/><text class="t f0" y="1519.2"><tspan x="1648.5">pprof</tspan><tspan x="1648.5" dy="12">(*Profile)</tspan><tspan x="1648.5" dy="12">WriteTo</tspan><tspan x="1648.5" dy="12">0 of 20ms (2.86%)</tspan></text></g>
<g id="n-messagestate" class="c8"><rect x="2058" y="1504" width="119" height="59"/><text class="t f0" y="1519.2"><tspan x="2117.5">impl</tspan><tspan x="2117.5" dy="12">(*messageState)</tspan><tspan x="2117.5" dy="12">Range</tspan><tspan x="2117.5" dy="12">0 of 20ms (2.86%)</tspan></text></g>
<g id="n-mmfunc1" class="c7"><rect x="2236" y="1476" width="159" height="115"/><text class="t f10" y="1496"><tspan x="2315.5">prototext</tspan><tspan x="2315.5" dy="17.3">encoder</tspan><tspan x="2315.5" dy="17.3">marshalMessage</tspan><tspan x="2315.5" dy="17.3">func1</tspan><tspan x="2315.5" dy="17.3">10ms (1.43%)</tspan><tspan x="2315.5" dy="17.3">of 30ms (4.29%)</tspan></text></g>
<g id="n-withretry" class="c7"><rect x="2692" y="1504" width="119" height="59"/><text class="t f0" y="1519.2"><tspan x="2751.5">grpc</tspan><tspan x="2751.5" dy="12">(*clientStream)</tspan><tspan x="2751.5" dy="12">withRetry</tspan><tspan x="2751.5" dy="12">0 of 30ms (4.29%)</tspan></text></g>
<g id="n-closestream" class="c8"><rect x="2834" y="1493" width="133" height="80"/><text class="t f10" y="1513.3"><tspan x="2900.5">transport</tspan><tspan x="2900.5" dy="17.3">(*http2Client)</tspan><tspan x="2900.5" dy="17.3">CloseStream</tspan><tspan x="2900.5" dy="17.3">10ms (1.43%)</tspan></text></g>
<g id="n-checktimers" class="c6"><rect x="4" y="1694" width="158" height="84"/><text class="t f10" y="1716.3"><tspan x="83">runtime</tspan><tspan x="83" dy="17.3">checkTimers</tspan><tspan x="83" dy="17.3">10ms (1.43%)</tspan><tspan x="83" dy="17.3">of 50ms (7.14%)</tspan></text></g>
<g id="n-preparesweep" class="c8"><rect x="191" y="1694" width="140" height="84"/><text class="t f10" y="1716.3"><tspan x="261">runtime</tspan><tspan x="261" dy="17.3">(*mcache)</tspan><tspan x="261" dy="17.3">prepareForSweep</tspan><tspan x="261" dy="17.3">10ms (1.43%)</tspan></text></g>
<g id="n-checkidle" class="c8"><rect x="384" y="1701" width="140" height="70"/><text class="t f10" y="1725"><tspan x="454">runtime</tspan><tspan x="454" dy="17.3">checkIdleGCNoP</tspan><tspan x="454" dy="17.3">10ms (1.43%)</tspan></text></g>
<g id="n-nanotime" class="c8"><rect x="562" y="1701" width="116" height="70"/><text class="t f10" y="1725"><tspan x="620">runtime</tspan><tspan x="620" dy="17.3">nanotime</tspan><tspan x="620" dy="17.3">10ms (1.43%)</tspan></text></g>
<g id="n-releasep" class="c8"><rect x="725" y="1701" width="136" height="70"/><text class="t f10" y="1725"><tspan x="793">runtime</tspan><tspan x="793" dy="17.3">releasepNoTrace</tspan><tspan x="793" dy="17.3">10ms (1.43%)</tspan></text></g>
<g id="n-syscall6" class="c1"><rect x="899" y="1676" width="281" height="117"/><text class="t f260" y="1714.1"><tspan x="1039.5">syscall</tspan><tspan x="1039.5" dy="34.5">Syscall6</tspan><tspan x="1039.5" dy="34.5">260ms (37.14%)</tspan></text></g>
<g id="n-flateclose" class="c8"><rect x="1510" y="1708" width="117" height="58"/><text class="t f0" y="1722.2"><tspan x="1568.5">flate</tspan><tspan x="1568.5" dy="12">(*Writer)</tspan><tspan x="1568.5" dy="12">Close</tspan><tspan x="1568.5" dy="12">0 of 10ms (1.43%)</tspan></text></g>
<g id="n-evacuate" class="c8"><rect x="1671" y="1703" width="136" height="68"/><text class="t f10" y="1725"><tspan x="1739">runtime</tspan><tspan x="1739" dy="17.3">evacuate_faststr</tspan><tspan x="1739" dy="17.3">10ms (1.43%)</tspan></text></g>
<g id="n-fieldinfo" class="c8"><rect x="1883" y="1696" width="144" height="80"/><text class="t f10" y="1716.3"><tspan x="1955">impl</tspan><tspan x="1955" dy="17.3">fieldInfoForList</tspan><tspan x="1955" dy="17.3">func3</tspan><tspan x="1955" dy="17.3">10ms (1.43%)</tspan></text></g>
<g id="n-nilinterequal" class="c8"><rect x="2052" y="1704" width="132" height="63"/><text class="t f10" y="1725"><tspan x="2118">runtime</tspan><tspan x="2118" dy="17.3">nilinterequal</tspan><tspan x="2118" dy="17.3">10ms (1.43%)</tspan></text></g>
<g id="n-marshalfield" class="c8"><rect x="2208" y="1706" width="119" height="59"/><text class="t f0" y="1722.2"><tspan x="2267.5">prototext</tspan><tspan x="2267.5" dy="12">encoder</tspan><tspan x="2267.5" dy="12">marshalField</tspan><tspan x="2267.5" dy="12">0 of 20ms (2.86%)</tspan></text></g>
<g id="n-fastime" class="c8"><rect x="2350" y="1700" width="119" height="71"/><text class="t f0" y="1716.2"><tspan x="2409.5">fastime</tspan><tspan x="2409.5" dy="12">(*fastime)</tspan><tspan x="2409.5" dy="12">StartTimerD</tspan><tspan x="2409.5" dy="12">func1</tspan><tspan x="2409.5" dy="12">0 of 10ms (1.43%)</tspan></text></g>
<g id="n-recv" class="c8"><rect x="2656" y="1694" width="130" height="84"/><text class="t f10" y="1716.3"><tspan x="2721">grpc</tspan><tspan x="2721" dy="17.3">recv</tspan><tspan x="2721" dy="17.3">10ms (1.43%)</tspan><tspan x="2721" dy="17.3">of 20ms (2.86%)</tspan></text></g>
<g id="n-memmove" class="c8"><rect x="2806" y="1701" width="116" height="70"/><text class="t f10" y="1725"><tspan x="2864">runtime</tspan><tspan x="2864" dy="17.3">memmove</tspan><tspan x="2864" dy="17.3">10ms (1.43%)</tspan></text></g>
<g id="n-runonetimer" class="c7"><rect x="4" y="1859" width="158" height="84"/><text class="t f10" y="1881.3"><tspan x="83">runtime</tspan><tspan x="83" dy="17.3">runOneTimer</tspan><tspan x="83" dy="17.3">10ms (1.43%)</tspan><tspan x="83" dy="17.3">of 40ms (5.71%)</tspan></text></g>
<g id="n-compressorclose" class="c8"><rect x="1681" y="1872" width="116" height="58"/><text class="t f0" y="1887.2"><tspan x="1739">flate</tspan><tspan x="1739" dy="12">(*compressor)</tspan><tspan x="1739" dy="12">close</tspan><tspan x="1739" dy="12">0 of 10ms (1.43%)</tspan></text></g>
<g id="n-marshalsingular" class="c8"><rect x="1994" y="1872" width="121" height="58"/><text class="t f0" y="1887.2"><tspan x="2054.5">prototext</tspan><tspan x="2054.5" dy="12">encoder</tspan><tspan x="2054.5" dy="12">marshalSingular</tspan><tspan x="2054.5" dy="12">0 of 20ms (2.86%)</tspan></text></g>
<g id="n-newobject" class="c5"><rect x="2534" y="1859" width="164" height="84"/><text class="t f10" y="1881.3"><tspan x="2616">runtime</tspan><tspan x="2616" dy="17.3">newobject</tspan><tspan x="2616" dy="17.3">10ms (1.43%)</tspan><tspan x="2616" dy="17.3">of 70ms (10.00%)</tspan></text></g>
<g id="n-sendtime" class="c7"><rect x="22" y="2027" width="120" height="50"/><text class="t f0" y="2044.2"><tspan x="82">time</tspan><tspan x="82" dy="12">sendTime</tspan><tspan x="82" dy="12">0 of 30ms (4.29%)</tspan></text></g>
<g id="n-mallocgc" class="c5"><rect x="2524" y="2007" width="186" height="90"/><text class="t f20" y="2030.8"><tspan x="2617">runtime</tspan><tspan x="2617" dy="18.7">mallocgc</tspan><tspan x="2617" dy="18.7">20ms (2.86%)</tspan><tspan x="2617" dy="18.7">of 100ms (14.29%)</tspan></text></g>
<g id="n-timenow" class="c8"><rect x="7" y="2192" width="155" height="78"/><text class="t f20" y="2219.1"><tspan x="84.5">time</tspan><tspan x="84.5" dy="18.7">Now</tspan><tspan x="84.5" dy="18.7">20ms (2.86%)</tspan></text></g>
<g id="n-runqput" class="c8"><rect x="180" y="2199" width="130" height="64"/><text class="t f10" y="2220"><tspan x="245">runtime</tspan><tspan x="245" dy="17.3">runqput</tspan><tspan x="245" dy="17.3">10ms (1.43%)</tspan></text></g>
<g id="n-writeheapbits" class="c8"><rect x="2008" y="2202" width="127" height="59"/><text class="t f0" y="2217.2"><tspan x="2071.5">runtime</tspan><tspan x="2071.5" dy="12">(*mspan)</tspan><tspan x="2071.5" dy="12">writeHeapBitsSmall</tspan><tspan x="2071.5" dy="12">0 of 20ms (2.86%)</tspan></text></g>
<g id="n-memclr" class="c8"><rect x="2159" y="2200" width="216" height="63"/><text class="t f10" y="2220"><tspan x="2267">runtime</tspan><tspan x="2267" dy="17.3">memclrNoHeapPointers</tspan><tspan x="2267" dy="17.3">10ms (1.43%)</tspan></text></g>
<g id="n-gcbgmark" class="c7"><rect x="2400" y="2207" width="119" height="48"/><text class="t f0" y="2223.2"><tspan x="2459.5">runtime</tspan><tspan x="2459.5" dy="12">gcBgMarkWorker</tspan><tspan x="2459.5" dy="12">0 of 30ms (4.29%)</tspan></text></g>
<g id="n-spansetpush" class="c8"><rect x="2542" y="2183" width="146" height="97"/><text class="t f10" y="2202.7"><tspan x="2615">runtime</tspan><tspan x="2615" dy="17.3">(*spanSet)</tspan><tspan x="2615" dy="17.3">push</tspan><tspan x="2615" dy="17.3">10ms (1.43%)</tspan><tspan x="2615" dy="17.3">of 20ms (2.86%)</tspan></text></g>
<g id="n-nextfreefast" class="c7"><rect x="2722" y="2192" width="146" height="78"/><text class="t f30" y="2218.1"><tspan x="2795">runtime</tspan><tspan x="2795" dy="20.2">nextFreeFast</tspan><tspan x="2795" dy="20.2">30ms (4.29%)</tspan></text></g>
<g id="n-readuintptr" class="c8"><rect x="1926" y="2368" width="132" height="63"/><text class="t f10" y="2388"><tspan x="1992">runtime</tspan><tspan x="1992" dy="17.3">readUintptr</tspan><tspan x="1992" dy="17.3">10ms (1.43%)</tspan></text></g>
<g id="n-heapbitsslice" class="c8"><rect x="2082" y="2368" width="133" height="63"/><text class="t f10" y="2388"><tspan x="2148.5">runtime</tspan><tspan x="2148.5" dy="17.3">heapBitsSlice</tspan><tspan x="2148.5" dy="17.3">10ms (1.43%)</tspan></text></g>
<g id="n-systemstack" class="c6"><rect x="2400" y="2375" width="119" height="48"/><text class="t f0" y="2391.2"><tspan x="2459.5">runtime</tspan><tspan x="2459.5" dy="12">systemstack</tspan><tspan x="2459.5" dy="12">0 of 50ms (7.14%)</tspan></text></g>
<g id="n-scanobject" class="c7"><rect x="2400" y="2514" width="119" height="49"/><text class="t f0" y="2530.7"><tspan x="2459.5">runtime</tspan><tspan x="2459.5" dy="12">scanobject</tspan><tspan x="2459.5" dy="12">0 of 30ms (4.29%)</tspan></text></g>
<g id="n-textaddr" class="c8"><rect x="2542" y="2499" width="130" height="79"/><text class="t f10" y="2518.8"><tspan x="2607">runtime</tspan><tspan x="2607" dy="17.3">(*moduledata)</tspan><tspan x="2607" dy="17.3">textAddr</tspan><tspan x="2607" dy="17.3">10ms (1.43%)</tspan></text></g>
<g id="n-persistentalloc" class="c8"><rect x="2705" y="2505" width="140" height="67"/><text class="t f10" y="2527.5"><tspan x="2775">runtime</tspan><tspan x="2775" dy="17.3">persistentalloc</tspan><tspan x="2775" dy="17.3">10ms (1.43%)</tspan></text></g>
<g id="n-typepointers" class="c8"><rect x="2386" y="2663" width="146" height="89"/><text class="t f20" y="2686.8"><tspan x="2459">runtime</tspan><tspan x="2459" dy="18.7">typePointers</tspan><tspan x="2459" dy="18.7">next</tspan><tspan x="2459" dy="18.7">20ms (2.86%)</tspan></text></g>
<g id="n-arenaindex" class="c8"><rect x="2556" y="2673" width="130" height="70"/><text class="t f10" y="2697"><tspan x="2621">runtime</tspan><tspan x="2621" dy="17.3">arenaIndex</tspan><tspan x="2621" dy="17.3">10ms (1.43%)</tspan></text></g>
</svg>
